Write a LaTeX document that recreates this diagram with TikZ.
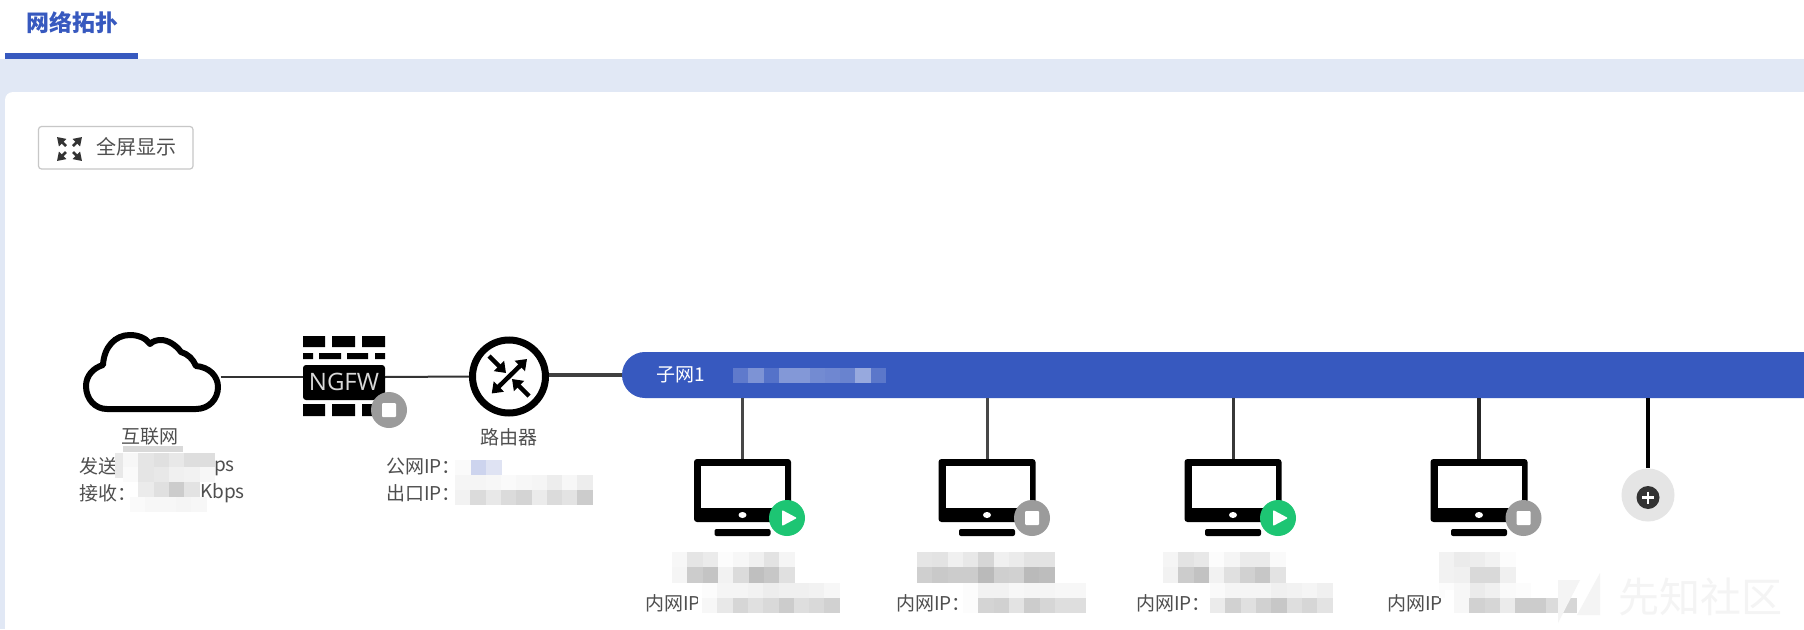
\documentclass[tikz,border=0pt]{standalone}
\usepackage{fontspec}
\setmainfont{Noto Sans CJK SC}
\newfontfamily\latinfont{Open Sans}
\usetikzlibrary{arrows.meta}
\definecolor{barblue}{HTML}{3759BF}
\definecolor{band}{HTML}{E1E8F5}
\definecolor{txt}{HTML}{4F4F4F}
\definecolor{playgreen}{HTML}{1DC573}
\definecolor{stopgray}{HTML}{9B9B9B}
\definecolor{wm}{HTML}{F4F4F4}
\definecolor{blurA}{HTML}{CDD4EE}
\definecolor{blurB}{HTML}{DFE3F3}
\newcommand\mrow[5]{\foreach \g [count=\i from 0] in {#5} {\fill[#1!\g!#2] (#3+\i*15.3,#4) rectangle ++(15.4,15.4);}}
\newcommand\monitor[2]{%
  \fill[black,rounded corners=3] (#2-48.5,459) rectangle (#2+48.5,522);
  \fill[white] (#2-41.5,466) rectangle (#2+42.5,508);
  \fill[white] (#2,515) ellipse (4 and 3);
  \fill[black,rounded corners=2] (#2-28,529) rectangle (#2+28,536);
  \node[hit,minimum width=97,minimum height=63] (#1) at (#2,490.5) {};}
\newcommand\playbadge[2]{%
  \node[badge,fill=playgreen] (#1) at (#2) {};
  \fill[white,rounded corners=1] ([shift={(-5,-8)}]#1.center) -- ([shift={(10,0)}]#1.center) -- ([shift={(-5,8)}]#1.center) -- cycle;}
\newcommand\stopbadge[2]{%
  \node[badge,fill=stopgray] (#1) at (#2) {};
  \fill[white,rounded corners=1] ([shift={(-7,-7)}]#1.center) rectangle ([shift={(7,7)}]#1.center);}
\tikzset{
  x=1pt,y=-1pt,
  hit/.style={inner sep=0,outer sep=0,rectangle},
  badge/.style={circle,inner sep=0,outer sep=0,minimum size=36},
  label/.style={inner sep=0,text=txt,font=\fontsize{19}{22}\selectfont},
  diag/.style={line width=4.5,-{Triangle[length=10,width=14]}},
  diagb/.style={line width=4.5,{Triangle[length=10,width=14]}-{Triangle[length=10,width=14]}},
  exp/.style={line width=2.6,draw=black!80,-{Triangle[length=8,width=10]}},
}
\begin{document}
\begin{tikzpicture}
\useasboundingbox (0,0) rectangle (1804,629);
% page
\fill[white] (0,0) rectangle (1804,629);
\fill[band] (0,59) rectangle (1804,629);
\begin{scope}
\clip (0,0) rectangle (1804,629);
\fill[white,rounded corners=8] (5,92) -- (1830,92) -- (1830,660) -- (5,660) -- cycle;
\end{scope}
\fill[barblue] (5,53) rectangle (138,59);
\node[inner sep=0,anchor=center,text=barblue,font=\fontsize{23}{26}\selectfont\bfseries] (title) at (72,23) {网络拓扑};
% button
\draw[black!22,line width=1.2,rounded corners=3,fill=white] (38.5,126.5) rectangle (193,169);
\node[inner sep=0,text=txt,font=\fontsize{20}{24}\selectfont] (fulltext) at (136,147) {全屏显示};
\draw[exp] (66,146) -- (57,137);
\draw[exp] (73,146) -- (82,137);
\draw[exp] (66,152) -- (57,161);
\draw[exp] (73,152) -- (82,161);
% hit regions
\node[hit,minimum width=137,minimum height=80] (cloud) at (152,377) {};
\node[hit,minimum width=82,minimum height=82] (ngfw) at (344,377) {};
\node[circle,draw=black,line width=7,fill=white,minimum size=73,inner sep=0] (router) at (509,376.5) {};
\node[hit,minimum width=1182,minimum height=46,anchor=west] (bar) at (622,375) {};
% connectors
\draw[line width=2,black!80] (cloud.east) -- (ngfw.west);
\draw[line width=2,black!80] (ngfw.east) -- (router.west);
\draw[line width=3.4,black!75] (bar.west -| router.east) -- (bar.west);
% cloud
\draw[black,line width=6,fill=white,line join=round] (107,409) -- (196,409) .. controls (209,409) and (218,399) .. (218,387) .. controls (218,376) and (209,367) .. (196,366) .. controls (193,359) and (188,354) .. (181,352) .. controls (176,345) and (168,340) .. (161,340) .. controls (157,340) and (153,341) .. (150,344) .. controls (146,338) and (138,335) .. (130,335) .. controls (115,335) and (104,347) .. (103,365) .. controls (93,368) and (86,376) .. (86,386) .. controls (86,399) and (95,409) .. (107,409) -- cycle;
% firewall
\fill[black] (303,336) rectangle (325,347) (332,336) rectangle (355,347) (362,336) rectangle (385,347);
\fill[black] (303,353) rectangle (313,359) (319,353) rectangle (341,359) (347,353) rectangle (368,359) (375,353) rectangle (385,359);
\fill[black,rounded corners=3] (303,365) rectangle (385,400);
\fill[black] (303,404) rectangle (325,416) (332,404) rectangle (355,416) (362,404) rectangle (385,416);
\node[inner sep=0,text=white!85!black,font=\latinfont\fontsize{24}{26}\selectfont] (ngfwtext) at (344,382) {NGFW};
\stopbadge{ngfwbadge}{389,410}
% router arrows
\draw[diagb] (491.7,393.5) -- (527,359);
\draw[diag] (489,356) -- (506,373);
\draw[diag] (529,396) -- (512,379);
% bar
\begin{scope}
\clip (0,0) rectangle (1804,629);
\fill[barblue,rounded corners=22.9] (1840,352) -- (622,352) -- (622,398) -- (1840,398) -- cycle;
\end{scope}
\node[inner sep=0,anchor=west,text=white,font=\fontsize{19}{22}\selectfont] (subnet) at (656,375) {子网1};
\mrow{white}{barblue}{733}{368}{20,35,15,38,38,30,28,25,48,18}
% monitors
\monitor{m1}{742.5}
\monitor{m2}{987}
\monitor{m3}{1233}
\monitor{m4}{1479}
\draw[line width=3,black!72] (bar.south -| m1.north) -- (m1.north);
\draw[line width=3,black!72] (bar.south -| m2.north) -- (m2.north);
\draw[line width=3,black!78] (bar.south -| m3.north) -- (m3.north);
\draw[line width=3.2,black!85] (bar.south -| m4.north) -- (m4.north);
\playbadge{b1}{787,518}
\stopbadge{b2}{1032,518}
\playbadge{b3}{1278,518}
\stopbadge{b4}{1523.5,518}
% add
\node[circle,fill=black!10,minimum size=53,inner sep=0] (add) at (1648,495) {};
\draw[line width=4,black] (bar.south -| add.north) -- (add.north);
\node[circle,fill=black!80,minimum size=23,inner sep=0] (addin) at (1648,497.5) {};
\draw[white,line width=2.2] (1642,497.5) -- (1654,497.5) (1648,491.5) -- (1648,503.5);
% labels
\node[label] (inet) at (150,437) {互联网};
\node[label,anchor=west] (send) at (79,466) {发送：};
\node[label,anchor=east] (sendu) at (235,466) {Kbps};
\node[label,anchor=west] (recv) at (79,493) {接收：};
\node[label,anchor=east] (recvu) at (245,493) {Kbps};
\node[label] (rt) at (509,437) {路由器};
\node[label,anchor=west] (pub) at (386,466) {公网IP：};
\node[label,anchor=west] (out) at (386,493) {出口IP：};
\node[label,anchor=west] (ip1) at (645,603) {内网IP：};
\node[label,anchor=west] (ip2) at (896,603) {内网IP：};
\node[label,anchor=west] (ip3) at (1136,603) {内网IP：};
\node[label,anchor=west] (ip4) at (1387,603) {内网IP：};
% mosaics
\fill[black!15] (123,446) rectangle (183,452);
\fill[black!9] (115,453) rectangle (123.5,478);
\mrow{black}{white}{123}{452.5}{3,10,12,9,13,13}
\mrow{black}{white}{123}{467}{2,10,9,6,5,3}
\mrow{black}{white}{138.3}{482}{8,12,20,11}
\mrow{black}{white}{130}{497}{2,3,3,4,3}
\mrow{black}{white}{455}{475}{4,4,3,2,3,4,7,3,7}
\mrow{black}{white}{455}{490}{5,14,9,14,17,8,14,11,20}
\fill[black!2] (455,460) rectangle (471,475);
\fill[blurA] (471,460) rectangle (486.3,475);
\fill[blurB] (486.3,460) rectangle (501.6,475);
\mrow{black}{white}{672}{552}{3,10,8,1,3,6,11,4}
\mrow{black}{white}{672}{567.3}{4,20,23,5,14,25,22,12}
\fill[white] (698,590) rectangle (702,613);
\mrow{black}{white}{702}{582.6}{1,4,4,5,7,6,6,5,3}
\mrow{black}{white}{702}{597.9}{3,9,16,12,15,20,13,15,18}
\mrow{black}{white}{917}{552}{10,11,6,9,16,6,8,11,11}
\mrow{black}{white}{917}{567.3}{19,21,20,20,27,19,18,27,26}
\mrow{black}{white}{963}{582.6}{1,5,5,3,4,4,3,3}
\mrow{black}{white}{963}{597.9}{1,17,18,11,20,16,13,13}
\mrow{black}{white}{1163}{552}{4,11,9,1,4,8,8,2}
\mrow{black}{white}{1163}{567.3}{5,20,24,5,12,18,22,11}
\mrow{black}{white}{1210}{582.6}{2,4,4,4,6,5,4,6}
\mrow{black}{white}{1210}{597.9}{8,18,12,18,22,13,16,11}
\mrow{black}{white}{1439}{552}{5,8,7,5,1}
\mrow{black}{white}{1439}{567.3}{5,6,15,15,6}
\mrow{black}{white}{1439}{582.6}{1,3,8,6,2,1}
\fill[white] (1445,590) rectangle (1454,613);
\mrow{black}{white}{1454}{597.9}{3,18,16,8,20,20,14,16}
% watermark
\fill[wm] (1600,573) -- (1577,615) -- (1600,615) -- cycle;
\fill[wm] (1558,580) -- (1580,580) -- (1558,623) -- cycle;
\node[inner sep=0,text=wm,font=\fontsize{41}{44}\selectfont] (wmtext) at (1700,597) {先知社区};
\end{tikzpicture}
\end{document}
